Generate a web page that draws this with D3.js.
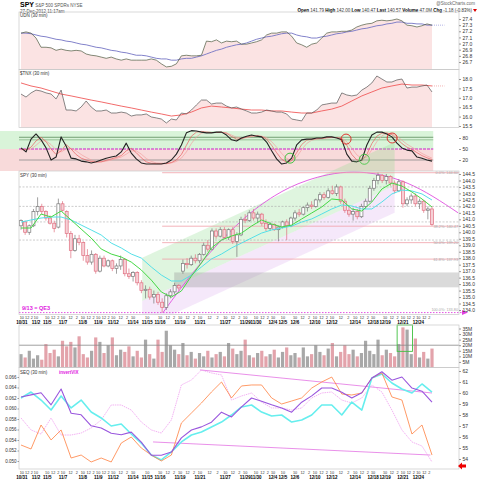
<!DOCTYPE html>
<html>
<head>
<meta charset="utf-8">
<script src="https://cdn.jsdelivr.net/npm/d3@7"></script>
<style>
body {margin:0; background:#fff;}
svg {display:block; font-family:"Liberation Sans", Arial, sans-serif;}
</style>
</head>
<body>
<script>
// ---------- data ----------
// candles: 100 bars of 30 min, index 0..99
const open = [140.5,140.8,140.0,140.5,141.6,142.0,141.6,141.1,140.7,140.4,
142.2,141.6,139.9,138.6,139.5,139.2,138.2,137.7,138.3,137.0,
138.0,137.4,137.8,137.2,137.4,137.9,136.8,136.6,136.9,136.1,
135.5,135.6,135.0,135.2,134.6,134.2,135.1,135.4,135.9,137.0,
137.6,137.5,138.0,137.8,138.3,139.0,138.7,140.1,139.7,140.2,
139.6,140.2,139.3,139.8,141.0,140.9,141.5,141.1,141.4,140.7,
140.3,140.6,140.2,140.4,140.8,140.5,141.1,141.5,141.4,141.9,
142.1,142.0,142.5,142.9,142.7,143.2,143.0,143.5,142.4,141.7,
141.4,141.6,141.2,142.0,142.4,143.4,144.0,144.4,144.0,144.3,
143.8,143.2,143.9,142.2,142.5,142.8,142.2,142.4,141.7,141.8];
const high = [141.0,140.9,140.6,141.8,142.7,142.2,141.7,141.3,140.9,142.6,
142.4,141.7,140.1,139.8,139.8,139.3,138.7,138.6,138.4,138.2,
138.2,137.9,137.9,137.6,138.2,138.0,137.2,137.0,137.0,136.3,
135.9,135.8,135.5,135.4,134.9,135.3,135.6,136.1,136.0,137.9,
138.0,138.2,138.3,138.4,139.2,139.4,140.3,140.3,140.4,140.4,
140.3,140.4,140.0,141.2,141.4,141.7,141.8,141.6,141.5,141.0,
140.8,140.7,140.5,140.9,141.0,141.2,141.7,141.8,142.0,142.3,
142.4,142.6,143.1,143.1,143.4,143.6,143.7,143.6,142.6,142.0,
141.9,141.8,142.2,142.6,143.6,144.2,144.6,144.5,144.5,144.4,
144.0,144.1,144.0,142.7,143.0,143.0,142.6,142.5,142.0,142.0];
const low = [140.2,139.8,139.8,140.4,141.3,141.4,140.9,140.6,140.0,140.3,
141.6,139.6,138.0,138.5,139.0,137.8,137.5,137.5,136.8,136.9,
137.3,137.3,137.0,136.8,137.1,136.6,136.4,136.2,135.9,135.3,
134.9,134.8,134.5,134.4,133.8,134.0,134.9,135.2,135.5,136.8,
137.2,137.4,137.6,137.6,138.2,138.5,138.6,139.5,139.6,139.5,
139.4,139.1,138.1,139.7,140.7,140.8,140.9,140.7,140.5,140.1,
140.1,140.1,139.3,140.3,139.4,140.4,140.9,141.2,141.3,141.6,
141.8,141.9,142.3,142.5,142.6,142.9,142.8,142.2,141.5,141.2,
140.9,141.0,141.1,141.8,142.3,143.2,143.7,143.8,143.7,143.6,
143.0,143.1,141.9,142.0,142.2,142.0,141.8,141.5,141.0,140.5];
const close = [140.9,140.0,140.5,141.6,142.0,141.6,141.1,140.7,140.3,142.2,
141.7,139.9,138.6,139.5,139.2,138.2,137.7,138.3,137.0,138.0,
137.4,137.8,137.2,137.4,137.9,136.8,136.6,136.9,136.1,135.5,
135.6,135.0,135.2,134.6,134.2,135.1,135.4,135.9,135.7,137.6,
137.5,138.0,137.8,138.3,139.0,138.7,140.1,139.7,140.2,139.6,
140.2,139.3,139.8,141.0,140.9,141.5,141.1,141.4,140.7,140.3,
140.6,140.2,140.4,140.8,140.5,141.1,141.5,141.4,141.9,142.1,
142.0,142.5,142.9,142.7,143.2,143.0,143.5,142.4,141.7,141.4,
141.6,141.2,142.0,142.4,143.4,144.0,144.4,144.0,144.3,143.8,
143.2,143.9,142.2,142.5,142.8,142.2,142.4,141.7,141.8,140.6];
// volume in millions, same bars
const volume = [12,9,15,8,11,7,21,13,16,10, 24,19,23,18,28,12,9,15,27,23,
13,20,27,11,16,14,19,10,15,9, 25,12,8,25,14,33,20,16,12,22,
11,14,8,13,10,15,9,12,14,10, 22,17,12,15,25,11,9,13,15,10,
12,16,9,14,18,11,13,9,18,10, 12,20,14,11,17,22,10,14,20,12,
16,10,13,24,15,12,25,11,16,13, 10,21,36,34,12,26,9,14,8,17];
// price moving averages, sampled evenly across the bars (42 points)
const greenMA = [140.33,140.33,141.41,141.18,141.64,140.95,140.25,139.56,138.71,138.32,138.09,137.70,137.09,136.31,135.39,135.0,135.47,136.62,137.63,138.79,139.40,139.71,139.94,140.48,140.95,140.64,140.41,140.56,141.03,141.49,141.95,142.57,142.49,141.80,141.64,142.34,143.34,143.80,143.57,143.11,142.57,141.95];
const cyanMA = [140.79,140.95,141.10,141.18,141.18,140.95,140.56,140.18,139.79,139.17,138.79,138.32,138.01,137.32,136.70,136.24,136.24,136.70,137.32,137.94,138.32,138.79,139.17,139.56,139.94,140.18,140.33,140.48,140.79,141.03,141.41,141.80,142.11,142.03,141.80,141.80,142.34,142.96,143.26,143.19,142.96,142.49];
// UDN and $TNX (83 evenly spaced samples)
const udn = [27.17,27.19,27.17,27.09,26.94,26.94,26.93,26.89,26.91,26.89,
26.88,26.89,26.88,26.83,26.81,26.80,26.78,26.76,26.78,26.75,
26.73,26.75,26.73,26.73,26.73,26.73,26.75,26.73,26.67,26.62,
26.63,26.67,26.80,26.81,26.80,26.80,26.81,27.04,27.03,27.06,
27.01,27.04,27.03,27.04,26.99,26.99,27.01,27.03,27.06,27.14,
27.17,27.17,27.19,27.19,27.12,27.01,26.98,26.94,26.99,27.01,
27.09,27.17,27.19,27.19,27.20,27.20,27.22,27.27,27.30,27.32,
27.33,27.37,27.38,27.37,27.38,27.40,27.37,27.30,27.29,27.27,
27.29,27.32,27.30];
const udnMA = [27.17,27.17,27.16,27.14,27.12,27.11,27.09,27.07,27.06,27.04,
27.03,27.01,26.99,26.98,26.96,26.94,26.93,26.91,26.89,26.88,
26.86,26.85,26.83,26.81,26.81,26.80,26.78,26.76,26.75,26.75,
26.73,26.73,26.75,26.76,26.76,26.78,26.80,26.83,26.86,26.89,
26.91,26.94,26.96,26.98,26.99,27.01,27.04,27.07,27.09,27.11,
27.12,27.14,27.16,27.17,27.17,27.14,27.12,27.11,27.09,27.09,
27.11,27.12,27.14,27.16,27.17,27.19,27.20,27.22,27.24,27.25,
27.27,27.29,27.30,27.32,27.33,27.35,27.35,27.33,27.33,27.32,
27.32,27.30,27.30];
const tnx = [17.20,17.04,17.26,17.41,17.36,17.26,17.20,16.94,17.41,16.35,
16.35,16.30,16.51,16.83,16.51,16.30,16.30,16.35,16.19,16.19,
16.24,16.19,16.03,16.09,16.09,16.14,15.98,15.93,15.87,15.66,
15.87,15.82,16.19,16.14,16.35,16.62,16.88,16.88,16.67,16.72,
16.72,16.56,16.46,16.51,16.40,16.30,16.19,16.19,16.24,16.35,
16.30,16.24,16.24,16.14,15.87,15.82,15.77,16.19,16.19,16.35,
16.62,16.67,16.72,16.72,17.26,17.15,17.10,17.15,17.41,17.57,
17.79,18.16,18.00,17.84,17.84,17.95,18.00,17.52,17.57,17.57,
17.63,17.68,17.31];
const tnxMA = [17.79,17.63,17.52,17.36,17.20,17.10,16.99,16.88,16.78,16.67,16.56,16.46,16.35,16.24,16.14,16.03,16.09,16.24,16.46,16.56,16.51,16.46,16.40,16.35,16.35,16.30,16.30,16.24,16.19,16.19,16.30,16.40,16.56,16.83,17.10,17.31,17.52,17.63,17.73,17.68,17.68,17.63];
// oscillator (83 samples)
const oscK = [53,42,77,91,75,53,20,28,83,58,25,23,17,15,12,15,20,25,28,31,42,66,39,23,12,9,9,9,9,12,20,36,61,94,100,99,96,94,94,96,96,88,75,72,80,85,88,85,83,69,45,23,9,12,25,61,75,77,77,80,80,83,83,80,75,36,17,15,20,61,88,96,96,91,83,66,53,47,45,28,25,20,17];
const oscD1 = [50,48,55,72,82,70,50,35,45,62,50,35,25,20,16,14,15,19,23,27,32,45,52,40,26,15,11,10,10,10,13,20,35,60,85,96,98,96,95,95,96,93,84,77,78,83,86,86,84,77,60,40,22,14,18,40,62,74,77,78,79,81,82,81,78,60,35,20,18,35,65,85,93,94,89,78,65,55,49,40,32,26,21];
const oscD2 = [48,48,50,60,72,72,62,48,42,50,52,45,35,27,20,16,15,17,20,24,28,36,45,45,36,24,16,12,11,11,12,16,25,42,65,83,93,96,95,95,95,94,88,82,80,81,84,86,85,81,70,55,38,24,19,28,48,65,74,77,78,80,81,81,80,70,52,34,24,28,48,70,86,92,91,85,74,63,55,47,38,31,25];
// SEQ panel (42 samples)
const seq = [0.0622,0.0626,0.0630,0.0607,0.0637,0.0591,0.0588,0.0567,0.0563,0.0553,0.0550,0.0555,0.0536,0.0511,0.0511,0.0517,0.0544,0.0559,0.0565,0.0574,0.0593,0.0584,0.0603,0.0620,0.0614,0.0607,0.0601,0.0593,0.0612,0.0624,0.0639,0.0639,0.0631,0.0620,0.0630,0.0658,0.0670,0.0654,0.0660,0.0639,0.0633,0.0612];
const seqCyan = [59.55,60.09,59.36,58.45,59.73,58.64,59.36,58.27,57.73,57.0,57.18,56.27,55.45,54.36,53.91,54.64,55.55,56.18,56.45,56.91,57.36,58.0,58.73,58.91,58.27,57.91,58.0,57.36,57.55,58.0,58.91,58.91,58.0,59.18,58.45,61.36,61.73,60.91,60.36,60.0,60.82,60.09];
const seqOrange = [55.27,54.91,57.09,55.73,56.64,54.09,54.36,53.73,54.09,53.73,55.45,56.0,55.0,54.36,53.82,54.36,57.27,58.18,59.09,60.09,61.0,59.55,60.64,60.73,60.73,59.55,59.0,59.27,59.55,60.45,61.0,61.45,59.91,59.82,60.0,61.36,61.82,59.64,59.36,56.27,57.09,54.36];
const invertVIX = [57.73,56.64,56.27,57.73,56.18,56.18,56.36,56.82,57.55,58.91,58.91,58.45,57.36,56.64,56.36,57.55,60.73,61.18,62.09,61.82,61.64,59.36,59.73,60.0,59.18,58.64,58.64,58.45,58.64,59.55,60.0,60.09,59.36,59.09,59.55,60.73,60.09,58.45,56.64,55.55,55.18,53.73];

// annotations, in [bar, value]
const arcPts = [[34.2,133.8],[43,137.5],[52.8,140.8],[61,142.8],[68.9,144.0],[80,144.65],[93,143.8],[105.3,141.5]];
const chanUpper = [[29.2,138.03],[90,146.95]];
const chanCenter = [[29.2,134.7],[90,143.6]];
const chanLower = [[29.2,132.6],[90,141.5]];
const fibs = [["0.0%",144.60],["38.2%",140.47],["50.0%",139.20],["61.8%",137.93]];
const fibLow = ["100.0%",133.80];
const supportZone = [135.75,136.9];
const priceGrid = [143.5,142.0,140.8,139.4];
const oscCircles = [[78.3,77,"red"],[89.4,80,"red"],[64.8,25,"green"],[82.7,22,"green"]];
const seqTop = [[43.1,62.1],[99,60.0]];
const seqBottom = [[31.8,55.55],[98.6,54.36]];

// axes
const udnTicks = [26.7,26.8,26.9,27.0,27.1,27.2,27.3,27.4];
const tnxTicks = [15.5,16.0,16.5,17.0,17.5,18.0];
const oscTicks = [20,50,80];
const spyTicks = d3.range(134, 144.51, 0.5);
const volTicks = [5,10,15,20,25,30,35];
const seqLTicks = [0.050,0.052,0.054,0.056,0.058,0.060,0.062,0.064,0.066];
const seqRTicks = [54,55,56,57,58,59,60,61,62];
const dateTicks = [[0.2,"10/31"],[3.6,"11/2"],[6.3,"11/5"],[10.1,"11/7"],[14.9,"11/8"],[18.6,"11/9"],[22.2,"11/12"],[27,"11/14"],[30.4,"11/15"],[33.5,"11/16"],[38.3,"11/19"],[43.1,"11/21"],[49.2,"11/27"],[54,"11/29"],[56.6,"11/30"],[60.7,"12/4"],[63.1,"12/5"],[66,"12/6"],[70.8,"12/10"],[74.9,"12/12"],[80.5,"12/14"],[84.8,"12/18"],[87.7,"12/19"],[92,"12/21"],[95.7,"12/24"]];

// ---------- layout ----------
const W = 480, H = 480, L = 19, R = 459;
const FONT = "Liberation Sans, Arial, sans-serif";
const svg = d3.select("body").append("svg").attr("width", W).attr("height", H);

const x = d3.scaleLinear().domain([0, 99]).range([21, 432]);
const at = arr => (d, i) => x(i * 99 / (arr.length - 1));

const P = {
  udn: [12, 69.5], tnx: [69.5, 127.5], osc: [127.5, 171], spy: [171, 314.5], vol: [325, 367.5], seq: [367.5, 469]
};
const yUdn = d3.scaleLinear().domain([26.7, 27.4]).range([62, 19]);
const yTnx = d3.scaleLinear().domain([15.5, 18.0]).range([126, 79]);
const yOsc = d3.scaleLinear().domain([20, 80]).range([160, 138]);
const ySpy = d3.scaleLinear().domain([134, 144.5]).range([310, 174]);
const yVol = d3.scaleLinear().domain([0, 35]).range([367.5, 328.5]);
const ySeqL = d3.scaleLinear().domain([0.050, 0.066]).range([461, 377]);
const ySeqR = d3.scaleLinear().domain([54, 62]).range([459, 371]);

function txt(g, x0, y0, s, size, fill, opts = {}) {
  return g.append("text").attr("x", x0).attr("y", y0).text(s)
    .attr("font-size", size).attr("fill", fill).attr("font-family", FONT)
    .attr("text-anchor", opts.anchor || "start").attr("font-weight", opts.bold ? "bold" : null);
}

function line(arr, y, color, width, dash) {
  svg.append("path").datum(arr)
    .attr("d", d3.line().x(at(arr)).y(d => y(d)))
    .attr("fill", "none").attr("stroke", color).attr("stroke-width", width)
    .attr("stroke-dasharray", dash || null).attr("stroke-linejoin", "round");
}

function seg(pts, y, color, width, dash) {
  svg.append("path").datum(pts)
    .attr("d", d3.line().x(d => x(d[0])).y(d => y(d[1])))
    .attr("fill", "none").attr("stroke", color).attr("stroke-width", width)
    .attr("stroke-dasharray", dash || null);
}

function rightAxis(scale, ticks, fmt) {
  const g = svg.append("g").attr("transform", `translate(${R},0)`)
    .call(d3.axisRight(scale).tickValues(ticks).tickFormat(fmt).tickSize(2).tickPadding(1.5));
  g.attr("font-size", 5).attr("font-family", FONT);
  g.select(".domain").remove();
  g.selectAll("line").attr("stroke", "#999");
  g.selectAll("text").attr("fill", "#333");
}

function frame(p) {
  svg.append("rect").attr("x", L).attr("y", p[0]).attr("width", R - L).attr("height", p[1] - p[0])
    .attr("fill", "none").attr("stroke", "#c8c8c8").attr("stroke-width", 0.7);
}

// ---------- header ----------
const hd = txt(svg, 20, 6.5, "", 7, "#000");
hd.append("tspan").text("SPY").attr("font-weight", "bold");
hd.append("tspan").text(" S&P 500 SPDRs NYSE").attr("font-size", 4.5).attr("fill", "#555");
txt(svg, 20, 12.5, "27-Dec-2012 11:17am", 4.5, "#444");
txt(svg, 475, 4.5, "@StockCharts.com", 4.5, "#666", {anchor: "end"});
const ohlc = txt(svg, 472, 11.5, "", 4.5, "#333", {anchor: "end"});
[["Open ", "141.79 "], ["High ", "142.00 "], ["Low ", "140.47 "], ["Last ", "140.57 "], ["Volume ", "47.0M "], ["Chg ", "-1.18 (-0.83%)"]]
  .forEach(([k, v]) => {
    ohlc.append("tspan").text(k).attr("font-weight", "bold").attr("fill", "#000");
    ohlc.append("tspan").text(v);
  });
svg.append("path").attr("d", "M473,9 L477,9 L475,12 Z").attr("fill", "#d00");

// ---------- UDN panel ----------
svg.append("path").datum(udn)
  .attr("d", d3.area().x(at(udn)).y0(P.udn[1]).y1(d => yUdn(d)))
  .attr("fill", "#fbe3e3");
line(udnMA, yUdn, "#7474c4", 0.9);
seg([[99, udnMA[udnMA.length - 1]], [102, udnMA[udnMA.length - 1]]], yUdn, "#a0a0e0", 0.8, "1,1");
line(udn, yUdn, "#4d5a40", 0.7);
frame(P.udn);
txt(svg, 20, 17, "UDN (30 min)", 4.5, "#333");
rightAxis(yUdn, udnTicks, d3.format(".1f"));

// ---------- $TNX panel ----------
svg.append("path").datum(tnx)
  .attr("d", d3.area().x(at(tnx)).y0(P.tnx[1]).y1(d => yTnx(d)))
  .attr("fill", "#fbe3e3");
line(tnxMA, yTnx, "#f05a5a", 0.9);
seg([[99, tnxMA[tnxMA.length - 1]], [102, tnxMA[tnxMA.length - 1]]], yTnx, "#f0a0a0", 0.8, "1,1");
line(tnx, yTnx, "#555", 0.7);
frame(P.tnx);
txt(svg, 20, 74.5, "$TNX (30 min)", 4.5, "#333");
rightAxis(yTnx, tnxTicks, d3.format(".1f"));

// ---------- oscillator panel ----------
svg.append("rect").attr("x", 0).attr("y", yOsc(99)).attr("width", x(99.3)).attr("height", yOsc(50) - yOsc(99))
  .attr("fill", "#d9f4d9");
svg.append("rect").attr("x", 0).attr("y", yOsc(50)).attr("width", x(99.3)).attr("height", P.osc[1] - yOsc(50))
  .attr("fill", "#f8dada");
svg.append("line").attr("x1", L).attr("x2", x(99.3)).attr("y1", yOsc(82)).attr("y2", yOsc(82)).attr("stroke", "#5a8a5a").attr("stroke-width", 0.8);
svg.append("line").attr("x1", L).attr("x2", x(99.3)).attr("y1", yOsc(75)).attr("y2", yOsc(75)).attr("stroke", "#6aa06a").attr("stroke-width", 0.6);
svg.append("line").attr("x1", L).attr("x2", x(99.3)).attr("y1", yOsc(20)).attr("y2", yOsc(20)).attr("stroke", "#8a8a8a").attr("stroke-width", 0.8);
svg.append("line").attr("x1", L).attr("x2", x(99.3)).attr("y1", yOsc(50)).attr("y2", yOsc(50)).attr("stroke", "#cc22cc").attr("stroke-width", 1.2).attr("stroke-dasharray", "3,1");
line(oscD2, yOsc, "#f4a0a0", 0.7);
line(oscD1, yOsc, "#e86060", 0.7);
line(oscK, yOsc, "#222", 1.1);
oscCircles.forEach(([t, v, c]) => {
  svg.append("circle").attr("cx", x(t)).attr("cy", yOsc(v)).attr("r", 5)
    .attr("fill", "none").attr("stroke", c === "red" ? "#e02020" : "#30c030").attr("stroke-width", 0.9);
});
rightAxis(yOsc, oscTicks, d3.format("d"));

// ---------- price panel ----------
svg.append("clipPath").attr("id", "spyclip").append("rect")
  .attr("x", L).attr("y", 100).attr("width", R - L).attr("height", P.spy[1] - 100);
const ann = svg.append("g").attr("clip-path", "url(#spyclip)");
const chanArea = (a, b) => [a[0], a[1], b[1], b[0]].map(d => [x(d[0]), ySpy(d[1])]);
ann.append("polygon").attr("points", chanArea(chanUpper, chanCenter).join(" ")).attr("fill", "rgba(140,220,140,0.28)");
ann.append("polygon").attr("points", chanArea(chanCenter, chanLower).join(" ")).attr("fill", "rgba(225,190,240,0.35)");
ann.append("rect").attr("x", x(36.9)).attr("width", R - x(36.9))
  .attr("y", ySpy(supportZone[1])).attr("height", ySpy(supportZone[0]) - ySpy(supportZone[1]))
  .attr("fill", "rgba(150,150,150,0.35)");

priceGrid.forEach(p => {
  svg.append("line").attr("x1", L).attr("x2", R).attr("y1", ySpy(p)).attr("y2", ySpy(p))
    .attr("stroke", "#aaa").attr("stroke-width", 0.6).attr("stroke-dasharray", "2,1.5");
});
fibs.forEach(([lab, p]) => {
  svg.append("line").attr("x1", x(34)).attr("x2", R).attr("y1", ySpy(p)).attr("y2", ySpy(p))
    .attr("stroke", "#f0a0a8").attr("stroke-width", 0.8);
  txt(svg, 458, ySpy(p) + 1.5, `${lab}: ${p.toFixed(2)}`, 3.8, "#aaa", {anchor: "end"});
});
txt(svg, 458, ySpy(fibLow[1]) - 1.5, `${fibLow[0]}: ${fibLow[1].toFixed(2)}`, 3.8, "#aaa", {anchor: "end"});

// candles: grey when close >= previous close, red otherwise; filled when close < open
const bw = 3;
const cg = svg.append("g");
close.forEach((c, i) => {
  const up = i === 0 ? c >= open[i] : c >= close[i - 1];
  const col = up ? "#777" : "#e07080";
  const hollow = c >= open[i];
  const cx = x(i);
  cg.append("line").attr("x1", cx).attr("x2", cx).attr("y1", ySpy(high[i])).attr("y2", ySpy(low[i]))
    .attr("stroke", col).attr("stroke-width", 0.7);
  const top = ySpy(Math.max(open[i], c)), bot = ySpy(Math.min(open[i], c));
  cg.append("rect").attr("x", cx - bw / 2).attr("y", top).attr("width", bw).attr("height", Math.max(0.8, bot - top))
    .attr("fill", hollow ? "#fff" : (up ? "#555" : "#f6d0d6")).attr("stroke", col).attr("stroke-width", 0.7);
});
line(cyanMA, ySpy, "#55e0e8", 1);
line(greenMA, ySpy, "#44d844", 1);

// arc and lows line
ann.append("path").datum(arcPts)
  .attr("d", d3.line().curve(d3.curveNatural).x(d => x(d[0])).y(d => ySpy(d[1])))
  .attr("fill", "none").attr("stroke", "#e050e0").attr("stroke-width", 0.9);
svg.append("line").attr("x1", L).attr("x2", 463).attr("y1", ySpy(fibLow[1])).attr("y2", ySpy(fibLow[1]))
  .attr("stroke", "#e040e0").attr("stroke-width", 0.9).attr("stroke-dasharray", "1.5,1.5");
svg.append("path").attr("d", `M462,${ySpy(fibLow[1]) - 2.5} L468,${ySpy(fibLow[1])} L462,${ySpy(fibLow[1]) + 2.5} Z`).attr("fill", "#e040e0");
frame(P.spy);
txt(svg, 20, 176.5, "SPY (30 min)", 4.5, "#333");
txt(svg, 22, 310, "9/13 = QE3", 5.5, "#e020e0", {bold: true});
rightAxis(ySpy, spyTicks, d3.format(".1f"));

// date axis rows
function dateRows(y1, y2) {
  dateTicks.forEach(([t, lab], k) => {
    txt(svg, x(t), y2, lab, 4.5, "#000", {anchor: "middle", bold: true});
    const next = k + 1 < dateTicks.length ? dateTicks[k + 1][0] : 99.5;
    const gap = next - t;
    txt(svg, x(t), y1, "10", 3.8, "#333", {anchor: "middle"});
    if (gap >= 3.4) {
      txt(svg, x(t + gap * 0.38), y1, "12", 3.8, "#333", {anchor: "middle"});
      txt(svg, x(t + gap * 0.7), y1, "2", 3.8, "#333", {anchor: "middle"});
    }
  });
}
dateRows(318.5, 323.5);

// ---------- volume panel ----------
volume.forEach((v, i) => {
  const up = i === 0 ? close[i] >= open[i] : close[i] >= close[i - 1];
  svg.append("rect").attr("x", x(i) - 1.6).attr("width", 3.2)
    .attr("y", yVol(v)).attr("height", yVol(0) - yVol(v))
    .attr("fill", up ? "#a8a8a8" : "#e3a3ab");
});
svg.append("line").attr("x1", L).attr("x2", R).attr("y1", yVol(20)).attr("y2", yVol(20)).attr("stroke", "#888").attr("stroke-width", 0.8);
svg.append("rect").attr("x", x(90.6)).attr("width", x(94.3) - x(90.6))
  .attr("y", P.vol[0]).attr("height", yVol(14.5) - P.vol[0])
  .attr("fill", "none").attr("stroke", "#40c040").attr("stroke-width", 0.9);
frame(P.vol);
rightAxis(yVol, volTicks, d => d + "M");

// ---------- SEQ panel ----------
seg(seqTop, ySeqR, "#e060e0", 0.7);
seg(seqBottom, ySeqR, "#e060e0", 0.7);
line(invertVIX, ySeqR, "#f0a0f0", 0.8, "1.5,0.8");
line(seqCyan, ySeqR, "#66eeee", 1.6);
line(seqOrange, ySeqR, "#ff8040", 0.8);
line(seq, ySeqL, "#9955dd", 1.1);
frame(P.seq);
txt(svg, 20, 373.5, "SEQ (30 min)", 4.5, "#333");
txt(svg, 59, 374, "invertVIX", 4.5, "#e020e0", {bold: true});
rightAxis(ySeqR, seqRTicks, d3.format("d"));
const la = svg.append("g").attr("transform", `translate(${L},0)`)
  .call(d3.axisLeft(ySeqL).tickValues(seqLTicks).tickFormat(d3.format(".3f")).tickSize(1.5).tickPadding(1));
la.attr("font-size", 4.5).attr("font-family", FONT);
la.select(".domain").remove();
la.selectAll("line").attr("stroke", "#999");
la.selectAll("text").attr("fill", "#333");
svg.append("path").attr("d", "M458,466 L462,462.5 L462,464.5 L466,464.5 L466,467.5 L462,467.5 L462,469.5 Z").attr("fill", "#e00");
dateRows(473.5, 478.5);
</script>
</body>
</html>
